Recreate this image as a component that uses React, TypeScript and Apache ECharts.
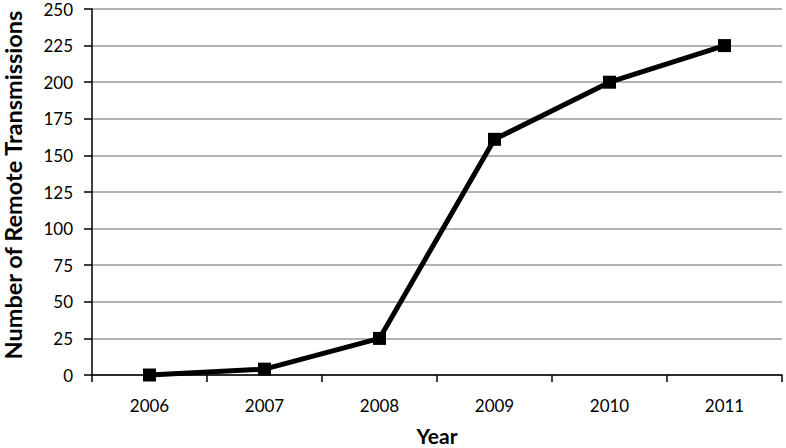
import React, { useEffect, useRef } from "react";
import * as echarts from "echarts";

const years = ["2006", "2007", "2008", "2009", "2010", "2011"];
const transmissions = [0, 4, 25, 161, 200, 225];
const xTitle = "Year";
const yTitle = "Number of Remote Transmissions";

export default function App() {
  const ref = useRef<HTMLDivElement>(null);
  useEffect(() => {
    const chart = echarts.init(ref.current!, null, { renderer: "svg" });
    const font = "Lato, 'Open Sans', sans-serif";
    chart.setOption({
      animation: false,
      backgroundColor: "#ffffff",
      grid: { left: 92, right: 4, top: 9, bottom: 73, containLabel: false },
      xAxis: {
        type: "category",
        data: years,
        boundaryGap: true,
        axisLine: { lineStyle: { color: "#000", width: 1.5 } },
        axisTick: { show: true, length: 7, alignWithLabel: false, lineStyle: { color: "#000", width: 1.5 } },
        axisLabel: { fontFamily: font, fontSize: 17, color: "#000", margin: 22 },
        splitLine: { show: false },
      },
      yAxis: {
        type: "value",
        min: 0,
        max: 250,
        interval: 25,
        axisLine: { show: true, lineStyle: { color: "#000", width: 1.5 } },
        axisTick: { show: true, length: 8, lineStyle: { color: "#000", width: 1.5 } },
        axisLabel: { fontFamily: font, fontSize: 17, color: "#000", margin: 19 },
        splitLine: { show: true, lineStyle: { color: "#9a9a9a", width: 1.5 } },
      },
      graphic: [
        {
          type: "text",
          x: 437,
          y: 435,
          style: {
            text: xTitle,
            fontFamily: font,
            fontWeight: "bold",
            fontSize: 21,
            fill: "#000",
            align: "center",
            verticalAlign: "middle",
          },
        },
        {
          type: "text",
          x: 12.5,
          y: 185,
          rotation: Math.PI / 2,
          style: {
            text: yTitle,
            fontFamily: font,
            fontWeight: "bold",
            fontSize: 23.5,
            fill: "#000",
            align: "center",
            verticalAlign: "middle",
          },
        },
      ],
      series: [
        {
          type: "line",
          data: transmissions,
          symbol: "rect",
          symbolSize: 13,
          itemStyle: { color: "#000" },
          lineStyle: { color: "#000", width: 5 },
        },
      ],
    });
    return () => chart.dispose();
  }, []);
  return <div ref={ref} style={{ width: 786, height: 448, position: "fixed", left: 0, top: 0 }} />;
}
